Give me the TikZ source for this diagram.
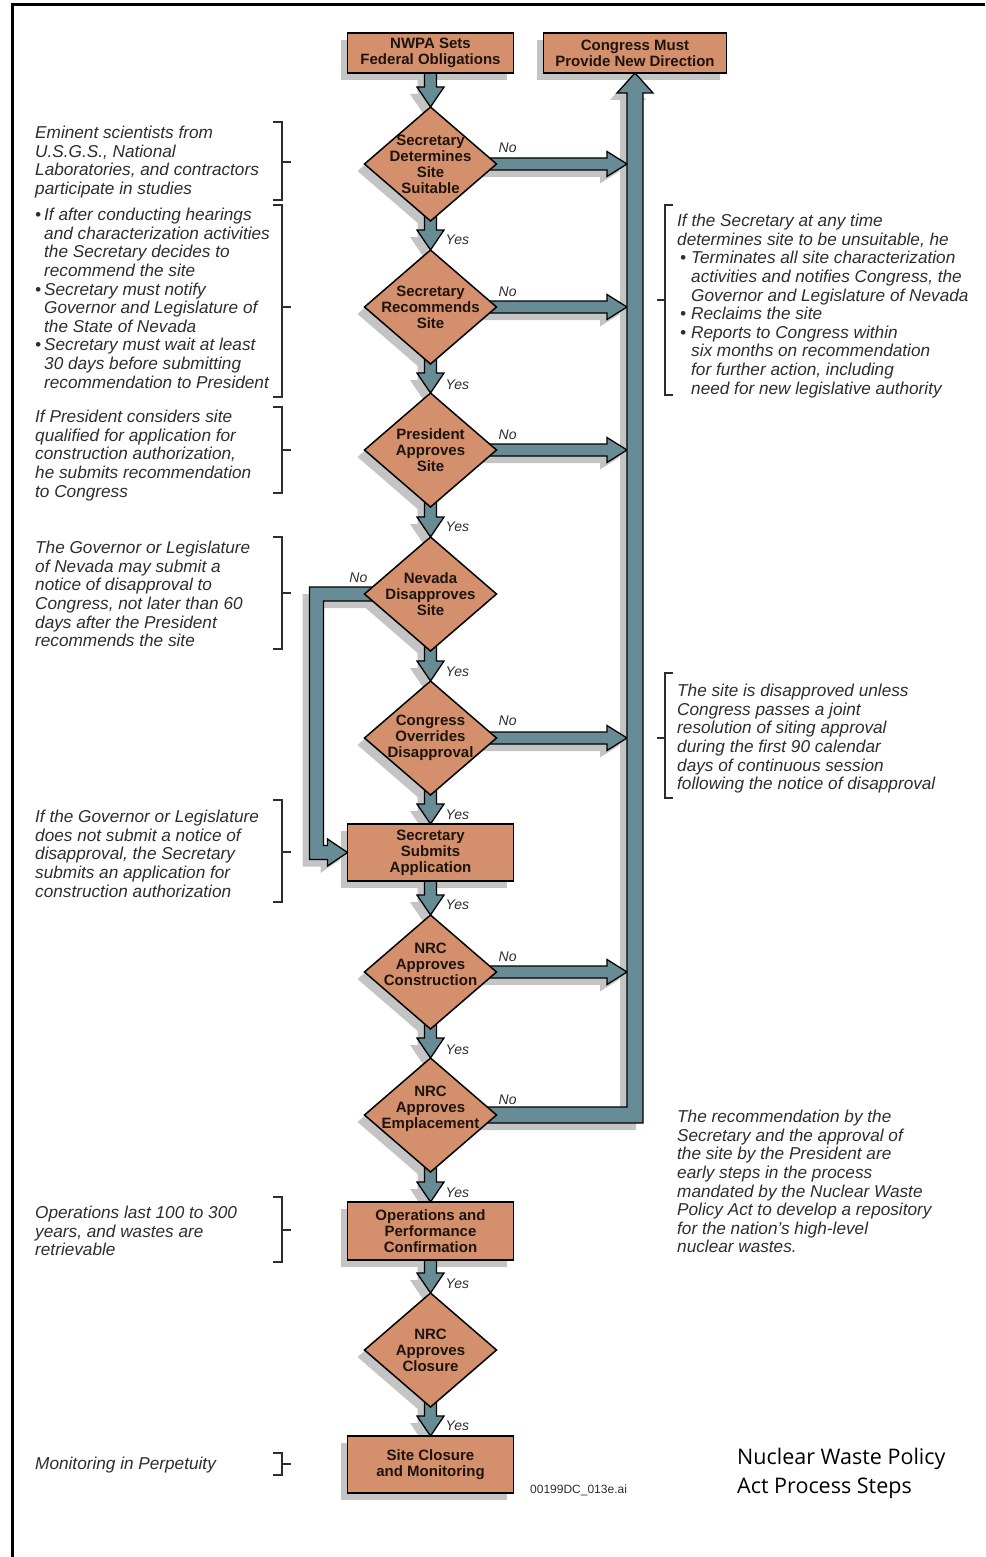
\documentclass[tikz,border=0pt]{standalone}
\usepackage{fontspec}
\setmainfont{Liberation Sans}
\newfontfamily\titlefont{Open Sans}
\usetikzlibrary{shapes,arrows,positioning,calc}
\definecolor{StepColor}{RGB}{212,144,108}
\definecolor{FlowColor}{RGB}{104,140,150}
\definecolor{ShadeColor}{RGB}{196,196,196}
\definecolor{NoteColor}{RGB}{45,45,45}
\definecolor{LabelColor}{RGB}{30,20,15}
\pgfdeclarelayer{shade}
\pgfdeclarelayer{flow}
\pgfsetlayers{shade,flow,main}
\tikzset{
    box/.style={rectangle, draw, line width=1.5pt, fill=StepColor, minimum width=166pt, inner sep=0pt, outer sep=0pt, align=center, text=LabelColor, font=\fontsize{15}{16}\selectfont\bfseries},
    decision/.style={diamond, aspect=1.16, draw, line width=1.5pt, fill=StepColor, minimum width=132pt, minimum height=114pt, inner sep=-12pt, outer sep=0pt, align=center, text=LabelColor, font=\fontsize{15}{16}\selectfont\bfseries},
    note/.style={anchor=north west, inner sep=0pt, align=left, text=NoteColor, font=\fontsize{17.2}{18.6}\selectfont\itshape},
    answer/.style={inner sep=0pt, text=NoteColor, font=\fontsize{14}{16}\selectfont\itshape},
    brace/.style={draw=NoteColor, line width=1.2pt},
    fatarrow/.style={draw=black, fill=FlowColor, line width=1.3pt, line join=miter},
    shadefill/.style={fill=ShadeColor}
}

% outlines of the fat arrows (used after let)
\newcommand{\downpath}{(\x1-6pt,\y1+14pt) -- (\x1-6pt,\y2+20pt) -- (\x1-13.5pt,\y2+20pt) -- (\x1,\y2) -- (\x1+13.5pt,\y2+20pt) -- (\x1+6pt,\y2+20pt) -- (\x1+6pt,\y1+14pt) -- cycle}
\newcommand{\rightpath}{(\x1-14pt,\y1+6pt) -- (\x2-20pt,\y1+6pt) -- (\x2-20pt,\y1+12.5pt) -- (\x2,\y1) -- (\x2-20pt,\y1-12.5pt) -- (\x2-20pt,\y1-6pt) -- (\x1-14pt,\y1-6pt) -- cycle}
\newcommand{\returnpath}{(\x1-14pt,\y1+8pt) -- (\x2-8pt,\y1+8pt) -- (\x2-8pt,\y2-20pt) -- (\x2-18pt,\y2-20pt) -- (\x2,\y2) -- (\x2+18pt,\y2-20pt) -- (\x2+8pt,\y2-20pt) -- (\x2+8pt,\y1-8pt) -- (\x1-14pt,\y1-8pt) -- cycle}
\newcommand{\looppath}{(\x1+14pt,\y1+7pt) -- (\x3-7pt,\y1+7pt) -- (\x3-7pt,\y2-7pt) -- (\x2-20pt,\y2-7pt) -- (\x2-20pt,\y2-13.5pt) -- (\x2,\y2) -- (\x2-20pt,\y2+13.5pt) -- (\x2-20pt,\y2+7pt) -- (\x3+7pt,\y2+7pt) -- (\x3+7pt,\y1-7pt) -- (\x1+14pt,\y1-7pt) -- cycle}

% shadow on the shade layer, arrow on the flow layer
\newcommand{\flow}[4][0,0]{%
  \begin{pgfonlayer}{shade}
    \fill[shadefill] let \p1=([shift={(-7pt,-7pt)}]#3), \p2=([shift={(-7pt,-7pt)}]#4), \p3=([shift={(-7pt,-7pt)}]#1) in #2;
  \end{pgfonlayer}
  \begin{pgfonlayer}{flow}
    \filldraw[fatarrow] let \p1=(#3), \p2=(#4), \p3=(#1) in #2;
  \end{pgfonlayer}}

\newcommand{\bulletbox}[1]{\makebox[#1][l]{\textbullet}}
% deepens the last line so the label sits higher in its diamond
\newcommand{\lift}[1]{\rule[-#1]{0pt}{0pt}}

\begin{document}
\begin{tikzpicture}[x=1pt, y=-1pt, node distance=30pt]
\useasboundingbox (0,0) rectangle (985,1557);

% Frame
\draw[line width=3pt] (12.5,1557) -- (12.5,4.5) -- (985,4.5);

% Start boxes
\node (nwpa) [box, minimum height=40pt] at (430.5,53) {NWPA Sets\\Federal Obligations};
\node (congress) [box, minimum width=183pt, minimum height=40pt, right=30pt of nwpa] {Congress Must\\Provide New Direction};

% Decisions and steps
\node (d1) [decision, below=34pt of nwpa] {Secretary\\Determines\\Site\\Suitable};
\node (d2) [decision, below=29pt of d1] {Secretary\\Recommends\\Site};
\node (d3) [decision, below=29pt of d2] {President\\Approves\\Site};
\node (d4) [decision, below=30pt of d3] {Nevada\\Disapproves\\Site};
\node (d5) [decision, below=30pt of d4] {Congress\\Overrides\\Disapproval};
\node (submit) [box, minimum height=57pt, below=29pt of d5] {Secretary\\Submits\\Application};
\node (d6) [decision, below=34pt of submit] {NRC\\Approves\\Construction\lift{16pt}};
\node (d7) [decision, below=29pt of d6] {NRC\\Approves\\Emplacement\lift{16pt}};
\node (ops) [box, minimum height=58pt, below=30pt of d7] {Operations and\\Performance\\Confirmation};
\node (d8) [decision, below=33pt of ops] {NRC\\Approves\\Closure};
\node (closure) [box, minimum height=57pt, below=29pt of d8] {Site Closure\\and Monitoring};

% Shadows
\begin{pgfonlayer}{shade}
\foreach \n in {d1,d2,d3,d4,d5,d6,d7,d8}
  \fill[shadefill] ([shift={(-7pt,-7pt)}]\n.north) -- ([shift={(-7pt,-7pt)}]\n.east) -- ([shift={(-7pt,-7pt)}]\n.south) -- ([shift={(-7pt,-7pt)}]\n.west) -- cycle;
\foreach \n in {nwpa,congress,submit,ops,closure}
  \fill[shadefill] ([shift={(-7pt,-7pt)}]\n.south west) rectangle ([shift={(-7pt,-7pt)}]\n.north east);
\end{pgfonlayer}

% Bends of the long arrows
\coordinate (spineL) at ([xshift=-8pt]congress.south);
\coordinate (nvbend) at (316.5,594);

% Connections
\flow{\downpath}{nwpa.south}{d1.north}
\flow{\downpath}{d1.south}{d2.north}
\flow{\downpath}{d2.south}{d3.north}
\flow{\downpath}{d3.south}{d4.north}
\flow{\downpath}{d4.south}{d5.north}
\flow{\downpath}{d5.south}{submit.north}
\flow{\downpath}{submit.south}{d6.north}
\flow{\downpath}{d6.south}{d7.north}
\flow{\downpath}{d7.south}{ops.north}
\flow{\downpath}{ops.south}{d8.north}
\flow{\downpath}{d8.south}{closure.north}
\foreach \d in {d1,d2,d3,d5,d6} {\flow{\rightpath}{\d.east}{spineL}}
\flow{\returnpath}{d7.east}{congress.south}
\flow[nvbend]{\looppath}{d4.west}{submit.west}

% Answers
\foreach \d/\dy in {d1/16pt, d2/15pt, d3/15pt, d5/17pt, d6/15pt, d7/15pt}
  \node[answer, anchor=west] (no-\d) at ([xshift=2pt,yshift=\dy]\d.east) {No};
\node[answer, anchor=east] (no-d4) at ([xshift=3pt,yshift=16pt]d4.west) {No};
\foreach \n/\dy in {d2/10pt, d3/8pt, d4/10pt, d5/9pt, submit/9pt, d6/10pt, d7/8pt, ops/9pt, d8/9pt, closure/10pt}
  \node[answer, anchor=west] (yes-\n) at ([xshift=15pt,yshift=\dy]\n.north) {Yes};

% Left notes
\node[note] (n1) at (35,126) {Eminent scientists from\\U.S.G.S., National\\Laboratories, and contractors\\participate in studies};
\node[note] (n2) at (35,208) {\bulletbox{9pt}If after conducting hearings\\\hspace*{9pt}and characterization activities\\\hspace*{9pt}the Secretary decides to\\\hspace*{9pt}recommend the site\\\bulletbox{9pt}Secretary must notify\\\hspace*{9pt}Governor and Legislature of\\\hspace*{9pt}the State of Nevada\\\bulletbox{9pt}Secretary must wait at least\\\hspace*{9pt}30 days before submitting\\\hspace*{9pt}recommendation to President};
\node[note] (n3) at (35,410) {If President considers site\\qualified for application for\\construction authorization,\\he submits recommendation\\to Congress};
\node[note] (n4) at (35,541) {The Governor or Legislature\\of Nevada may submit a\\notice of disapproval to\\Congress, not later than 60\\days after the President\\recommends the site};
\node[note] (n5) at (35,810) {If the Governor or Legislature\\does not submit a notice of\\disapproval, the Secretary\\submits an application for\\construction authorization};
\node[note] (n6) at (35,1206) {Operations last 100 to 300\\years, and wastes are\\retrievable};
\node[note] (n7) at (35,1457) {Monitoring in Perpetuity};

% Left brackets
\foreach \ya/\ym/\yb in {122/162/200, 205/307/397, 407/450/493, 537/593/649, 800/852/902, 1197/1230/1262, 1453/1464/1475}
  \draw[brace] (273,\ya) -- (282,\ya) -- (282,\yb) -- (273,\yb) (282,\ym) -- (291,\ym);

% Right notes
\node[note] (r1) at (677,214) {If the Secretary at any time\\determines site to be unsuitable, he\\\hspace*{3pt}\bulletbox{11pt}Terminates all site characterization\\\hspace*{14pt}activities and notifies Congress, the\\\hspace*{14pt}Governor and Legislature of Nevada\\\hspace*{3pt}\bulletbox{11pt}Reclaims the site\\\hspace*{3pt}\bulletbox{11pt}Reports to Congress within\\\hspace*{14pt}six months on recommendation\\\hspace*{14pt}for further action, including\\\hspace*{14pt}need for new legislative authority};
\node[note] (r2) at (677,684) {The site is disapproved unless\\Congress passes a joint\\resolution of siting approval\\during the first 90 calendar\\days of continuous session\\following the notice of disapproval};
\node[note] (r3) at (677,1110) {The recommendation by the\\Secretary and the approval of\\the site by the President are\\early steps in the process\\mandated by the Nuclear Waste\\Policy Act to develop a repository\\for the nation's high-level\\nuclear wastes.};

% Right brackets
\foreach \ya/\ym/\yb in {205/300/395, 673/738/798}
  \draw[brace] (673,\ya) -- (665,\ya) -- (665,\yb) -- (673,\yb) (665,\ym) -- (657,\ym);

% Title and file name
\node[anchor=north west, inner sep=0pt, align=left, font=\titlefont\fontsize{21.5}{29}\selectfont] (title) at (737,1448) {Nuclear Waste Policy\\Act Process Steps};
\node[anchor=west, inner sep=0pt, text=NoteColor, font=\fontsize{12}{14}\selectfont] (fileid) at (530,1490) {00199DC\_013e.ai};

\end{tikzpicture}
\end{document}
